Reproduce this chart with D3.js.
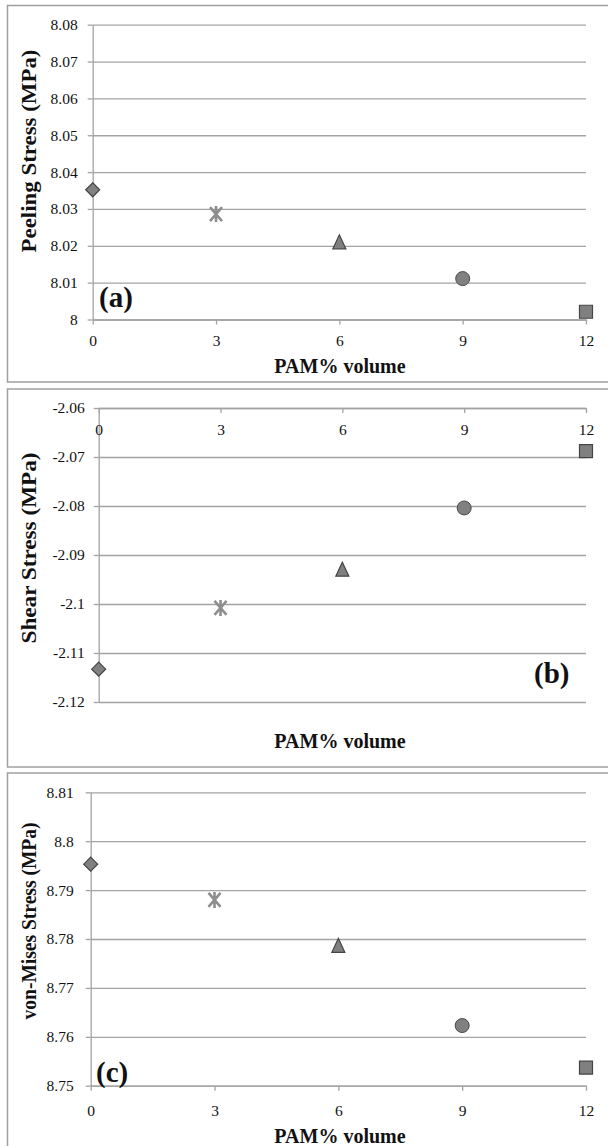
<!DOCTYPE html>
<html>
<head>
<meta charset="utf-8">
<script src="https://cdn.jsdelivr.net/npm/d3@7"></script>
<style>
  body { margin: 0; background: #fff; }
  svg text { font-family: "Liberation Serif", "Times New Roman", serif; fill: #111; }
</style>
</head>
<body>
<div id="chart"></div>
<script>
// data
var pam = [0, 3, 6, 9, 12];
var xTickLabels = ["0", "3", "6", "9", "12"];
var markers = ["diamond", "star", "triangle", "circle", "square"];

var peeling = [8.0352, 8.0286, 8.0208, 8.0111, 8.0021];
var peelingTicks = [8, 8.01, 8.02, 8.03, 8.04, 8.05, 8.06, 8.07, 8.08];
var peelingTickLabels = ["8", "8.01", "8.02", "8.03", "8.04", "8.05", "8.06", "8.07", "8.08"];

var shear = [-2.1133, -2.1008, -2.0931, -2.0804, -2.0688];
var shearTicks = [-2.12, -2.11, -2.1, -2.09, -2.08, -2.07, -2.06];
var shearTickLabels = ["-2.12", "-2.11", "-2.1", "-2.09", "-2.08", "-2.07", "-2.06"];

var vonMises = [8.7953, 8.788, 8.7785, 8.7623, 8.7537];
var vonMisesTicks = [8.75, 8.76, 8.77, 8.78, 8.79, 8.8, 8.81];
var vonMisesTickLabels = ["8.75", "8.76", "8.77", "8.78", "8.79", "8.8", "8.81"];

var W = 608, H = 1146;
var serif = "'Liberation Serif', 'Times New Roman', serif";
var svg = d3.select("#chart").append("svg")
    .attr("width", W)
    .attr("height", H);

var gridColor = "#a3a3a3";

function drawPanel(opt) {
    var g = svg.append("g");

    // panel frame
    g.append("rect")
        .attr("x", 7.5).attr("y", opt.top)
        .attr("width", 640).attr("height", opt.bottom - opt.top)
        .attr("fill", "none")
        .attr("stroke", "#a0a0a0")
        .attr("stroke-width", 1.5);

    var x = d3.scaleLinear().domain([0, 12]).range([opt.x0, 586]);
    var y = d3.scaleLinear().domain(d3.extent(opt.ticks)).range([opt.yBottom, opt.yTop]);

    // gridlines
    g.append("g")
        .attr("transform", "translate(" + opt.x0 + ",0)")
        .call(d3.axisRight(y).tickValues(opt.ticks).tickSize(586 - opt.x0).tickFormat(""))
        .call(function(s) { s.select(".domain").remove(); })
        .selectAll("line").attr("stroke", gridColor).attr("stroke-width", 1.3);

    // y axis
    var yAxis = g.append("g")
        .attr("transform", "translate(" + opt.x0 + ",0)")
        .call(d3.axisLeft(y).tickValues(opt.ticks).tickSize(5).tickSizeOuter(0).tickPadding(opt.yPad)
            .tickFormat(function(d, i) { return opt.tickLabels[i]; }));
    yAxis.attr("font-family", serif);
    yAxis.select(".domain").attr("stroke", gridColor).attr("stroke-width", 1.3);
    yAxis.selectAll("line").attr("stroke", gridColor).attr("stroke-width", 1.3);
    yAxis.selectAll("text").style("font-family", serif).style("font-size", "15.5px").attr("fill", "#111");

    // x axis
    var xAxis = g.append("g")
        .attr("transform", "translate(0," + y(opt.xAxisAt) + ")")
        .call(d3.axisBottom(x).tickValues(pam).tickSize(5).tickSizeOuter(0).tickPadding(opt.xPad)
            .tickFormat(function(d, i) { return xTickLabels[i]; }));
    xAxis.attr("font-family", serif);
    xAxis.select(".domain").attr("stroke", gridColor).attr("stroke-width", 1.3);
    xAxis.selectAll("line").attr("stroke", gridColor).attr("stroke-width", 1.3);
    xAxis.selectAll("text").style("font-family", serif).style("font-size", "15.5px").attr("fill", "#111");

    // markers
    var symbolPath = {
        diamond: "M0,-7L7,0L0,7L-7,0Z",
        triangle: "M0,-8L6.5,6L-6.5,6Z",
        square: "M-6.5,-6.5H6.5V6.5H-6.5Z",
        star: "M-6,-7L6,7M6,-7L-6,7M0,-8V8"
    };
    opt.values.forEach(function(v, i) {
        var m = markers[i];
        var p = g.append("g").attr("transform", "translate(" + x(pam[i]) + "," + y(v) + ")");
        if (m === "circle") {
            p.append("circle").attr("r", 7)
                .attr("fill", "#808080").attr("stroke", "#4a4a4a").attr("stroke-width", 1);
        } else if (m === "star") {
            p.append("path").attr("d", symbolPath.star)
                .attr("fill", "none").attr("stroke", "#8e8e8e").attr("stroke-width", 2.6);
        } else {
            p.append("path").attr("d", symbolPath[m])
                .attr("fill", "#808080").attr("stroke", "#454545").attr("stroke-width", 1.2);
        }
    });

    // axis titles
    g.append("text")
        .attr("x", 340).attr("y", opt.xTitleY)
        .attr("text-anchor", "middle")
        .style("font-size", "20px").style("font-weight", "bold")
        .text("PAM% volume");

    g.append("text")
        .attr("transform", "translate(36," + opt.yTitleY + ") rotate(-90)")
        .attr("text-anchor", "middle")
        .attr("textLength", opt.yTitleLen)
        .attr("lengthAdjust", "spacingAndGlyphs")
        .style("font-size", "20px").style("font-weight", "bold")
        .text(opt.yTitle);

    // panel letter
    g.append("text")
        .attr("x", opt.labelX).attr("y", opt.labelY)
        .style("font-size", "29px").style("font-weight", "bold")
        .text(opt.label);
}

drawPanel({
    top: 5.5, bottom: 382, x0: 92.7, yTop: 24.7, yBottom: 319.5,
    ticks: peelingTicks, tickLabels: peelingTickLabels, values: peeling,
    xAxisAt: 8, yPad: 10, xPad: 10, xTitleY: 373,
    yTitle: "Peeling Stress (MPa)", yTitleY: 151, yTitleLen: 203,
    label: "(a)", labelX: 99, labelY: 307
});

drawPanel({
    top: 389, bottom: 767, x0: 98.7, yTop: 408, yBottom: 702,
    ticks: shearTicks, tickLabels: shearTickLabels, values: shear,
    xAxisAt: -2.06, yPad: 9, xPad: 11, xTitleY: 748,
    yTitle: "Shear Stress (MPa)", yTitleY: 548, yTitleLen: 191,
    label: "(b)", labelX: 534, labelY: 683
});

drawPanel({
    top: 773, bottom: 1200, x0: 90.7, yTop: 792.3, yBottom: 1085.7,
    ticks: vonMisesTicks, tickLabels: vonMisesTickLabels, values: vonMises,
    xAxisAt: 8.75, yPad: 12, xPad: 14, xTitleY: 1143,
    yTitle: "von-Mises Stress (MPa)", yTitleY: 921, yTitleLen: 197,
    label: "(c)", labelX: 96, labelY: 1082
});
</script>
</body>
</html>
